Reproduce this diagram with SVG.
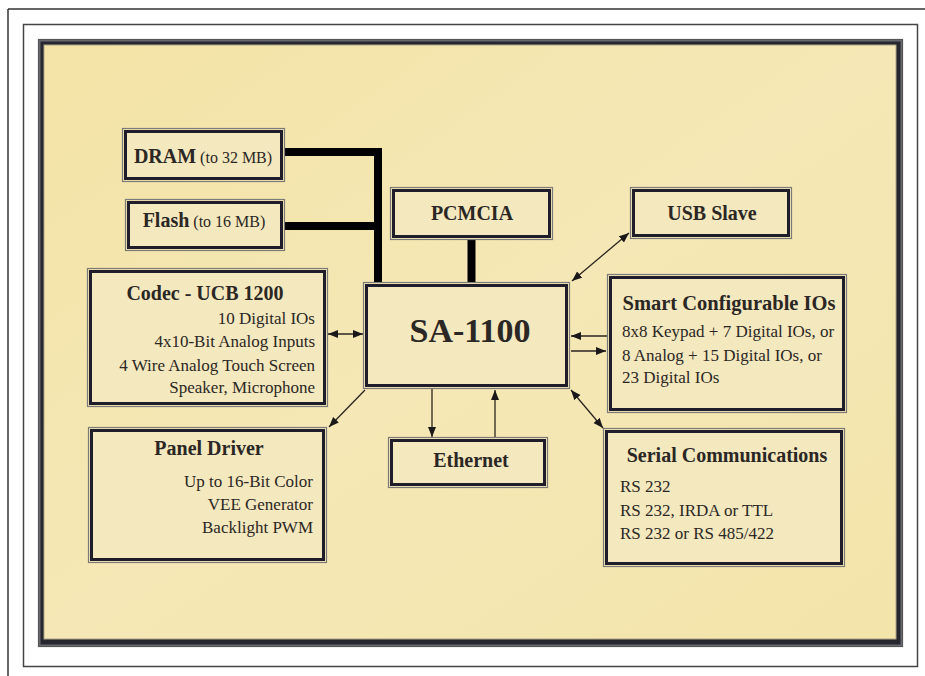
<svg xmlns="http://www.w3.org/2000/svg" width="925" height="676" viewBox="0 0 925 676">
<defs>
<style>
.t{font-family:"Liberation Serif","Times New Roman",serif;fill:#2b2724}
.h{font-weight:bold;font-size:20px}
.b{font-size:17px}
.s{font-size:16px;font-weight:normal}
.big{font-weight:bold;font-size:34px}
.bo{fill:none;stroke:#7a7a7a;stroke-width:1.2}
.bi{fill:#f4e8bf;stroke:#1f1d2c;stroke-width:3}
.bus{stroke:#000;stroke-width:8;fill:none}
.ar{stroke:#2a2522;stroke-width:1.3;fill:none}
</style>
<marker id="ah" markerUnits="userSpaceOnUse" markerWidth="11" markerHeight="9" refX="10" refY="4" orient="auto-start-reverse">
<path d="M0,0 L10,4 L0,8 z" fill="#1a1818"/>
</marker>
<linearGradient id="pg" x1="0" y1="0" x2="1" y2="1">
<stop offset="0" stop-color="#f3e3a6"/>
<stop offset="0.5" stop-color="#f5e8b6"/>
<stop offset="1" stop-color="#f3e4aa"/>
</linearGradient>
</defs>

<!-- page frame -->
<rect x="0" y="0" width="925" height="676" fill="#ffffff"/>
<path d="M8,9 H925 M8,9 V676" stroke="#333" stroke-width="1.5" fill="none"/>
<rect x="23.5" y="24.5" width="894" height="642" fill="#ffffff" stroke="#444" stroke-width="1.5"/>

<!-- parchment panel -->
<rect x="38.5" y="39.5" width="864" height="607" fill="#6a6a72" stroke="#555" stroke-width="1.2"/>
<rect x="40.5" y="41.5" width="860" height="603" fill="#26262f"/>
<rect x="44" y="45" width="852" height="594" fill="url(#pg)" stroke="#b0a58a" stroke-width="1"/>

<!-- connectors -->
<g id="connectors">
<path class="bus" d="M285,152 H378 V283"/>
<path class="bus" d="M285,226 H378"/>
<path class="bus" d="M471.5,240 V283"/>
<line class="ar" x1="328" y1="334" x2="363" y2="334" marker-start="url(#ah)" marker-end="url(#ah)"/>
<line class="ar" x1="572" y1="281" x2="629" y2="233" marker-start="url(#ah)" marker-end="url(#ah)"/>
<line class="ar" x1="607" y1="336" x2="571" y2="336" marker-end="url(#ah)"/>
<line class="ar" x1="571" y1="351" x2="606" y2="351" marker-end="url(#ah)"/>
<line class="ar" x1="571" y1="390" x2="603" y2="428" marker-start="url(#ah)" marker-end="url(#ah)"/>
<line class="ar" x1="365" y1="390" x2="329" y2="427" marker-end="url(#ah)"/>
<line class="ar" x1="432" y1="389" x2="432" y2="437" marker-end="url(#ah)"/>
<line class="ar" x1="495" y1="437" x2="495" y2="390" marker-end="url(#ah)"/>
</g>

<g id="dram">
<rect class="bo" x="122.5" y="128.5" width="162" height="53"/>
<rect class="bi" x="125.5" y="131.5" width="156" height="47"/>
<text class="t" x="203" y="163" text-anchor="middle"><tspan class="h">DRAM</tspan><tspan class="s"> (to 32 MB)</tspan></text>
</g>

<g id="flash">
<rect class="bo" x="125.5" y="199.5" width="159" height="51"/>
<rect class="bi" x="128.5" y="202.5" width="153" height="45"/>
<text class="t" x="204" y="227" text-anchor="middle"><tspan class="h">Flash</tspan><tspan class="s"> (to 16 MB)</tspan></text>
</g>

<g id="pcmcia">
<rect class="bo" x="390.5" y="187.5" width="162" height="52"/>
<rect class="bi" x="393.5" y="190.5" width="156" height="46"/>
<text class="t h" x="472" y="220" text-anchor="middle">PCMCIA</text>
</g>

<g id="usb">
<rect class="bo" x="630.5" y="187.5" width="161" height="51"/>
<rect class="bi" x="633.5" y="190.5" width="155" height="45"/>
<text class="t h" x="712" y="220" text-anchor="middle">USB Slave</text>
</g>

<g id="sa1100">
<rect class="bo" x="363.5" y="282.5" width="206" height="106"/>
<rect class="bi" x="366.5" y="285.5" width="200" height="100"/>
<text class="t big" x="470" y="342" text-anchor="middle">SA-1100</text>
</g>

<g id="codec">
<rect class="bo" x="87.5" y="268.5" width="240" height="138"/>
<rect class="bi" x="90.5" y="271.5" width="234" height="132"/>
<text class="t h" x="205" y="300" text-anchor="middle">Codec - UCB 1200</text>
<text class="t b" x="315" y="324" text-anchor="end">10 Digital IOs</text>
<text class="t b" x="315" y="347" text-anchor="end">4x10-Bit Analog Inputs</text>
<text class="t b" x="315" y="371" text-anchor="end">4 Wire Analog Touch Screen</text>
<text class="t b" x="315" y="393" text-anchor="end">Speaker, Microphone</text>
</g>

<g id="smartio">
<rect class="bo" x="607.5" y="274.5" width="239" height="138"/>
<rect class="bi" x="610.5" y="277.5" width="233" height="132"/>
<text class="t h" x="729" y="310" text-anchor="middle" style="font-size:20.5px">Smart Configurable IOs</text>
<text class="t b" x="622" y="337">8x8 Keypad + 7 Digital IOs, or</text>
<text class="t b" x="622" y="361">8 Analog + 15 Digital IOs, or</text>
<text class="t b" x="622" y="383">23 Digital IOs</text>
</g>

<g id="panel">
<rect class="bo" x="88.5" y="427.5" width="238" height="135"/>
<rect class="bi" x="91.5" y="430.5" width="232" height="129"/>
<text class="t h" x="209" y="455" text-anchor="middle">Panel Driver</text>
<text class="t b" x="313" y="487" text-anchor="end">Up to 16-Bit Color</text>
<text class="t b" x="313" y="510" text-anchor="end">VEE Generator</text>
<text class="t b" x="313" y="533" text-anchor="end">Backlight PWM</text>
</g>

<g id="ethernet">
<rect class="bo" x="388.5" y="437.5" width="159" height="50"/>
<rect class="bi" x="391.5" y="440.5" width="153" height="44"/>
<text class="t h" x="471" y="467" text-anchor="middle">Ethernet</text>
</g>

<g id="serial">
<rect class="bo" x="603.5" y="428.5" width="241" height="138"/>
<rect class="bi" x="606.5" y="431.5" width="235" height="132"/>
<text class="t h" x="727" y="462" text-anchor="middle">Serial Communications</text>
<text class="t b" x="620" y="492">RS 232</text>
<text class="t b" x="620" y="516">RS 232, IRDA or TTL</text>
<text class="t b" x="620" y="539">RS 232 or RS 485/422</text>
</g>
</svg>
